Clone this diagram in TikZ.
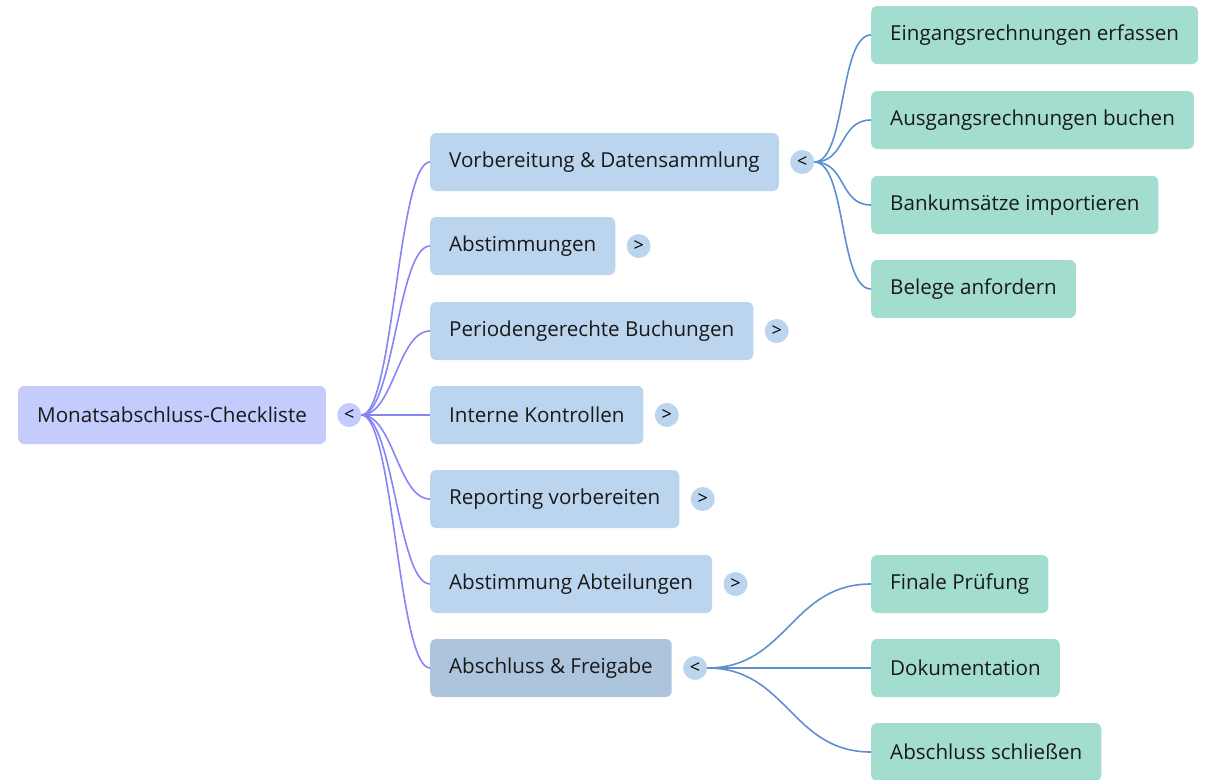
\documentclass[tikz,border=0pt]{standalone}
\usepackage{fontspec}
\setmainfont{Open Sans}
\usetikzlibrary{positioning}
\definecolor{rootfill}{HTML}{C5CBFC}
\definecolor{topicfill}{HTML}{BCD5EF}
\definecolor{donefill}{HTML}{ADC4DD}
\definecolor{taskfill}{HTML}{A3DDD0}
\definecolor{rootline}{HTML}{8585F5}
\definecolor{topicline}{HTML}{5E8FCF}

\begin{document}
\begin{tikzpicture}[x=1pt, y=-1pt,
    mm block/.style={rectangle, rounded corners=6pt, anchor=west, minimum height=58pt, inner xsep=19pt, font=\fontsize{20.6}{24}\selectfont, text=black!90},
    root block/.style={mm block, fill=rootfill},
    topic block/.style={mm block, fill=topicfill},
    task block/.style={mm block, fill=taskfill},
    fold/.style={circle, fill=topicfill, minimum size=24pt, inner sep=0pt, font=\fontsize{18}{18}\selectfont},
    root edge/.style={draw=rootline, line width=1.6pt},
    topic edge/.style={draw=topicline, line width=1.6pt}]

    \useasboundingbox (0,0) rectangle (1207,779);

    \node [root block] (root) at (18,415) {Monatsabschluss-Checkliste};
    \node [fold, fill=rootfill, right=11pt of root] (rootfold) {<};

    \node [topic block] (vorb) at (430,162) {Vorbereitung \& Datensammlung};
    \node [topic block] (abst) at (430,246) {Abstimmungen};
    \node [topic block] (perio) at (430,331) {Periodengerechte Buchungen};
    \node [topic block] (kontr) at (430,415) {Interne Kontrollen};
    \node [topic block] (report) at (430,499) {Reporting vorbereiten};
    \node [topic block] (abteil) at (430,584) {Abstimmung Abteilungen};
    \node [topic block, fill=donefill] (freig) at (430,668) {Abschluss \& Freigabe};

    \node [fold, right=11pt of vorb] (vorbfold) {<};
    \node [fold, right=11pt of abst] (abstfold) {>};
    \node [fold, right=11pt of perio] (periofold) {>};
    \node [fold, right=11pt of kontr] (kontrfold) {>};
    \node [fold, right=11pt of report] (reportfold) {>};
    \node [fold, right=11pt of abteil] (abteilfold) {>};
    \node [fold, right=11pt of freig] (freigfold) {<};

    \node [task block] (eing) at (871,35) {Eingangsrechnungen erfassen};
    \node [task block] (ausg) at (871,120) {Ausgangsrechnungen buchen};
    \node [task block] (bank) at (871,205) {Bankumsätze importieren};
    \node [task block] (belege) at (871,289) {Belege anfordern};
    \node [task block] (final) at (871,584) {Finale Prüfung};
    \node [task block] (doku) at (871,668) {Dokumentation};
    \node [task block] (schl) at (871,752) {Abschluss schließen};

    \foreach \n in {vorb,abst,perio,kontr,report,abteil,freig}
        \draw [root edge] (rootfold.east) .. controls +(32,0) and +(-32,0) .. (\n.west);
    \foreach \n in {eing,ausg,bank,belege}
        \draw [topic edge] (vorbfold.east) .. controls +(32,0) and +(-32,0) .. (\n.west);
    \foreach \n in {final,doku,schl}
        \draw [topic edge] (freigfold.east) .. controls +(80,0) and +(-80,0) .. (\n.west);

\end{tikzpicture}
\end{document}
